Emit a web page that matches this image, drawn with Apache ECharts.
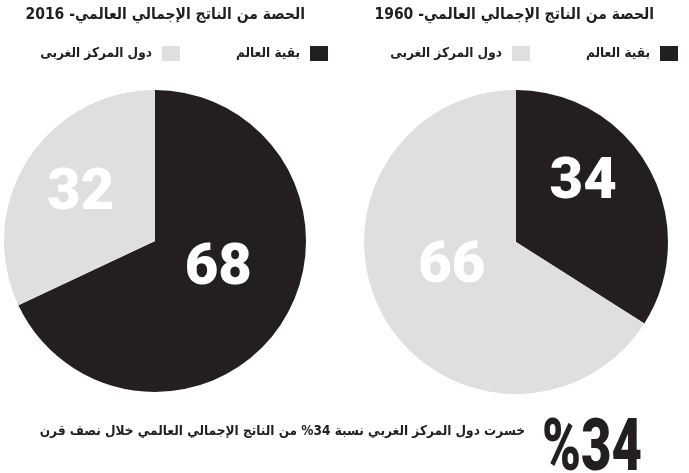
<!DOCTYPE html>
<html lang="ar">

<head>
    <meta charset="UTF-8">
    <title>الحصة من الناتج الإجمالي العالمي</title>
    <script src="https://cdn.jsdelivr.net/npm/echarts@6/dist/echarts.min.js"></script>
    <style>
        html, body {
            margin: 0;
            padding: 0;
            background: #fff;
        }

        #main {
            width: 689px;
            height: 473px;
        }
    </style>
</head>

<body>
    <div id="main"></div>
    <script>
        // data
        var names = ['بقية العالم', 'دول المركز الغربى'];
        var years = ['2016', '1960'];
        var share2016 = [68, 32];
        var share1960 = [34, 66];
        var titlePrefix = 'الحصة من الناتج الإجمالي العالمي- ';

        var colors = ['#231f20', '#dfdfe1'];
        var numFont = 'Roboto, "DejaVu Sans Condensed", sans-serif';
        var arFont = '"DejaVu Sans Condensed", "DejaVu Sans", sans-serif';

        // western share lost over the period
        var lost = share1960[1] - share2016[1];

        function toData(vals) {
            return vals.map(function (v, i) {
                return { name: names[i], value: v };
            });
        }

        // nudge labels a bit, like in the print version
        var nudges = [
            [[-3, -14], [-8, -4]],
            [[-2, -20], [5, -13]]
        ];

        function pieSeries(vals, center, radius, k) {
            return {
                type: 'pie',
                center: center,
                radius: radius,
                startAngle: 90,
                clockwise: true,
                data: toData(vals),
                label: {
                    show: true,
                    position: 'inside',
                    formatter: '{c}',
                    color: '#fff',
                    fontSize: 58,
                    fontWeight: 900,
                    fontFamily: numFont
                },
                labelLine: { show: false },
                labelLayout: function (p) {
                    var n = nudges[k][p.dataIndex];
                    return { dx: n[0], dy: n[1] };
                },
                emphasis: { scale: false },
                itemStyle: { borderWidth: 0 }
            };
        }

        var legendBase = {
            orient: 'horizontal',
            align: 'right',
            top: 41,
            itemWidth: 18,
            itemHeight: 15,
            itemGap: 56,
            icon: 'rect',
            data: [names[1], names[0]],
            textStyle: {
                fontFamily: arFont,
                fontWeight: 'bold',
                fontSize: 13.5,
                color: '#231f20',
                padding: [0, 5, 0, 0]
            }
        };

        var titleStyle = { fontFamily: arFont, fontWeight: 'bold', fontSize: 15.5, color: '#231f20' };

        var myChart = echarts.init(document.getElementById('main'));

        var option = {
            animation: false,
            color: colors,
            title: [{
                text: titlePrefix + years[0],
                right: 379,
                top: 2,
                textStyle: titleStyle
            }, {
                text: titlePrefix + years[1],
                right: 30,
                top: 2,
                textStyle: titleStyle
            }],
            legend: [
                Object.assign({}, legendBase, { right: 356 }),
                Object.assign({}, legendBase, { right: 6 })
            ],
            graphic: [{
                type: 'text',
                right: 164,
                top: 424,
                style: {
                    text: 'خسرت دول المركز الغربي نسبة ' + lost + '% من الناتج الإجمالي العالمي خلال نصف قرن',
                    font: 'bold 13.5px ' + arFont,
                    fill: '#231f20'
                }
            }, {
                type: 'text',
                right: 47,
                top: 416,
                scaleX: 0.73,
                style: {
                    text: '%' + lost,
                    font: '900 72px ' + numFont,
                    fill: '#231f20'
                }
            }],
            series: [
                pieSeries(share2016, [155, 241], 151, 0),
                pieSeries(share1960, [516, 242], 152, 1)
            ]
        };

        myChart.setOption(option);
    </script>
</body>

</html>
